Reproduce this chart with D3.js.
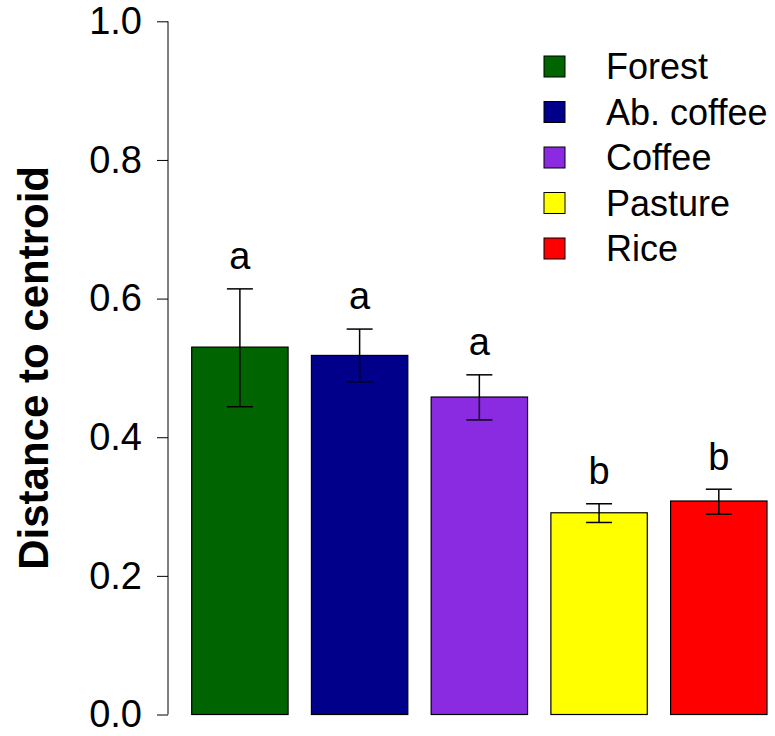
<!DOCTYPE html>
<html>
<head>
<meta charset="utf-8"/>
<script src="https://cdn.jsdelivr.net/npm/d3@7"></script>
<style>
html, body {
  margin: 0;
  padding: 0;
  background: #fff;
}
svg text {
  font-family: "Liberation Sans", Arial, sans-serif;
}
</style>
</head>
<body>
<svg id="chart" width="775" height="736"></svg>
<script type="text/javascript">

// data
var habitats = ["Forest", "Ab. coffee", "Coffee", "Pasture", "Rice"];
var means    = [0.530, 0.518, 0.458, 0.291, 0.308];
var upper    = [0.614, 0.556, 0.490, 0.304, 0.325];
var lower    = [0.444, 0.480, 0.425, 0.277, 0.289];
var letters  = ["a", "a", "a", "b", "b"];
var colors   = ["#006400", "#00008B", "#8A2BE2", "#FFFF00", "#FF0000"];
var yTicks   = [0, 0.2, 0.4, 0.6, 0.8, 1.0];

var svg = d3.select("#chart");

var y = d3.scaleLinear()
    .domain([0, 1])
    .range([714.5, 21.3]);

var x = d3.scaleBand()
    .domain(habitats)
    .range([191.7, 767])
    .paddingInner(0.195)
    .paddingOuter(0);

//---------------------------------------
// y axis, R style: line only between the first and last tick
var yAxis = d3.axisLeft(y)
    .tickValues(yTicks)
    .tickFormat(d3.format(".1f"))
    .tickSize(11)
    .tickPadding(15);

var gy = svg.append("g")
    .attr("transform", "translate(168,0)")
    .call(yAxis);
gy.select(".domain").remove();
gy.append("line")
    .attr("x1", 0).attr("x2", 0)
    .attr("y1", y(0)).attr("y2", y(1))
    .attr("stroke", "#000");
gy.selectAll(".tick line").attr("stroke", "#000");
gy.selectAll(".tick text")
    .attr("fill", "#000")
    .style("font-size", "38px")
    .style("font-family", "'Liberation Sans', Arial, sans-serif");

svg.append("text")
    .attr("transform", "translate(33," + (y(0.5)) + ") rotate(-90)")
    .attr("text-anchor", "middle")
    .attr("dy", "0.35em")
    .style("font-size", "42px")
    .style("font-weight", "bold")
    .text("Distance to centroid");

//---------------------------------------
// bars
svg.append("g").selectAll("rect")
    .data(habitats)
  .enter().append("rect")
    .attr("x", function(d) { return x(d); })
    .attr("y", function(d, i) { return y(means[i]); })
    .attr("width", x.bandwidth())
    .attr("height", function(d, i) { return y(0) - y(means[i]); })
    .attr("fill", function(d, i) { return colors[i]; })
    .attr("stroke", "#000")
    .attr("stroke-width", 1.2);

// error bars
var eb = svg.append("g")
    .attr("stroke", "#000")
    .attr("stroke-width", 1.5);
var capHalf = 13;
habitats.forEach(function(d, i) {
  var cx = x(d) + x.bandwidth() / 2;
  eb.append("line")
      .attr("x1", cx).attr("x2", cx)
      .attr("y1", y(upper[i])).attr("y2", y(lower[i]));
  eb.append("line")
      .attr("x1", cx - capHalf).attr("x2", cx + capHalf)
      .attr("y1", y(upper[i])).attr("y2", y(upper[i]));
  eb.append("line")
      .attr("x1", cx - capHalf).attr("x2", cx + capHalf)
      .attr("y1", y(lower[i])).attr("y2", y(lower[i]));
});

// significance letters
svg.append("g").selectAll("text")
    .data(habitats)
  .enter().append("text")
    .attr("x", function(d) { return x(d) + x.bandwidth() / 2; })
    .attr("y", function(d, i) { return y(upper[i]) - 33; })
    .attr("dy", "0.35em")
    .attr("text-anchor", "middle")
    .style("font-size", "38px")
    .text(function(d, i) { return letters[i]; });

//---------------------------------------
// legend
var legend = svg.append("g")
    .attr("transform", "translate(544,56)");
var row = legend.selectAll("g")
    .data(habitats)
  .enter().append("g")
    .attr("transform", function(d, i) { return "translate(0," + (i * 45.5) + ")"; });
row.append("rect")
    .attr("width", 21)
    .attr("height", 21)
    .attr("fill", function(d, i) { return colors[i]; })
    .attr("stroke", "#000")
    .attr("stroke-width", 1);
row.append("text")
    .attr("x", 62)
    .attr("y", 10.5)
    .attr("dy", "0.35em")
    .style("font-size", "36px")
    .text(function(d) { return d; });

</script>
</body>
</html>
